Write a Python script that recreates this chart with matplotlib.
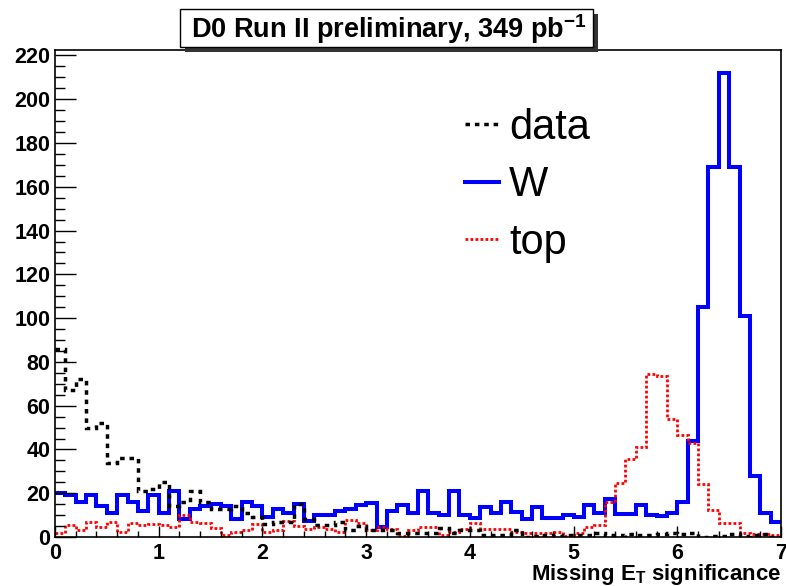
import numpy as np
import matplotlib
matplotlib.use("Agg")
import matplotlib.pyplot as plt
from matplotlib.lines import Line2D
from matplotlib.patches import Rectangle
from matplotlib.ticker import MultipleLocator

# 70 bins of 0.1 in missing ET significance
bin_edges = np.round(np.arange(0, 71) * 0.1, 1)

data_counts = [
    86, 67, 72, 50, 52, 34, 36, 36, 21, 22,
    25, 14, 16, 21, 16, 13, 13, 14, 11, 9,
    6, 7, 7, 15, 8, 5.5, 5.5, 7, 3, 5,
    3, 3, 3, 2, 2, 2, 2, 4, 2, 3,
    3, 1, 1, 1, 3, 0, 0.5, 1, 0.5, 1,
    1, 1, 2, 1, 1, 1.5, 1, 1, 1.5, 2,
    1.5, 2, 0, 0.5, 0.5, 1.5, 0.5, 1, 1.5, 0,
]

w_counts = [
    20, 19, 16, 19, 14, 11, 19, 16, 12, 19,
    11, 21, 8, 13, 14, 15, 14, 8, 16, 14,
    9, 13, 11, 15, 7.5, 10, 10, 12, 13, 14.5,
    15.5, 4.5, 12, 14.5, 11, 21, 11, 10, 21, 10,
    8.5, 13.5, 11, 16, 11.5, 8, 13.5, 8.5, 8.5, 10,
    9, 14.5, 11, 17.5, 10.5, 10.5, 14.5, 10, 9.5, 11,
    16, 44, 105, 169, 212, 169, 101, 28, 11, 7,
]

top_counts = [
    2, 5.5, 3, 7, 4.5, 7, 2.5, 6.5, 5.5, 6,
    5.5, 4.5, 10, 7, 6.5, 4, 1, 2.4, 3, 6,
    2.4, 3, 7.5, 5, 3.5, 4.7, 3.5, 2.4, 7.8, 6.2,
    3.2, 4.4, 3.5, 0.3, 3.2, 4.7, 4.4, 1, 2.4, 3.5,
    6.2, 3.5, 3.5, 3.5, 2.4, 2, 2, 1.7, 2.4, 0.6,
    2, 4.4, 5.6, 16, 24.5, 35.5, 41, 74.5, 73.5, 54,
    46.5, 43, 24, 12.5, 6.5, 6.5, 2, 1.2, 1.2, 1,
]

plt.rcParams["font.family"] = ["Liberation Sans", "DejaVu Sans"]
plt.rcParams["font.weight"] = "bold"
plt.rcParams["mathtext.fontset"] = "custom"
plt.rcParams["mathtext.rm"] = "Liberation Sans:bold"
plt.rcParams["mathtext.bf"] = "Liberation Sans:bold"
plt.rcParams["mathtext.default"] = "bf"

fig = plt.figure(figsize=(7.86, 5.86), dpi=100)
ax = fig.add_axes([55 / 786, 49 / 586, 726 / 786, 487 / 586])

data_style = (0, (1.3, 1.4))
top_style = (0, (1.0, 0.8))

ax.stairs(w_counts, bin_edges, baseline=None, color="#0000ff", lw=2.9)
ax.stairs(top_counts, bin_edges, baseline=None, color="#ff0000",
          lw=2.0, linestyle=top_style)
ax.stairs(data_counts, bin_edges, baseline=None, color="black",
          lw=2.5, linestyle=data_style)

ax.set_xlim(0, 7)
ax.set_ylim(0, 222.5)

ax.xaxis.set_major_locator(MultipleLocator(1))
ax.xaxis.set_minor_locator(MultipleLocator(0.2))
ax.yaxis.set_major_locator(MultipleLocator(20))
ax.yaxis.set_minor_locator(MultipleLocator(5))

ax.tick_params(which="both", direction="in", top=False, right=False,
               width=1, labelsize=15.5)
ax.tick_params(axis="x", which="major", length=8, pad=4)
ax.tick_params(axis="x", which="minor", length=4)
ax.tick_params(axis="y", which="major", length=15, pad=3.5)
ax.tick_params(axis="y", which="minor", length=7.5)

for sp in ax.spines.values():
    sp.set_linewidth(1.2)

ax.set_xlabel(r"Missing E$_{T}$ significance", fontsize=16,
              fontweight="bold", loc="right", labelpad=-1)

handles = [
    Line2D([], [], color="black", lw=2.5, linestyle=data_style),
    Line2D([], [], color="#0000ff", lw=2.9),
    Line2D([], [], color="#ff0000", lw=2.0, linestyle=top_style),
]
ax.legend(handles, ["data", "W", "top"], loc="upper left",
          bbox_to_anchor=(0.565, 0.881), frameon=False,
          prop={"size": 30, "weight": "normal"},
          handlelength=0.8, handletextpad=0.25, labelspacing=0.42,
          borderpad=0, borderaxespad=0)

# title box with shadow, ROOT style
shadow = Rectangle((185 / 786, 1 - 52 / 586), 413 / 786, 38 / 586,
                   transform=fig.transFigure, facecolor="#333333",
                   edgecolor="none", zorder=5)
box = Rectangle((180 / 786, 1 - 47 / 586), 413 / 786, 38 / 586,
                transform=fig.transFigure, facecolor="white",
                edgecolor="black", lw=1, zorder=6)
fig.patches.extend([shadow, box])
fig.text(389 / 786, 1 - 29 / 586, r"D0 Run II preliminary, 349 pb$^{-1}$",
         ha="center", va="center", fontsize=19.5, fontweight="bold", zorder=7)

fig.savefig("out.png", dpi=100)
plt.close(fig)
